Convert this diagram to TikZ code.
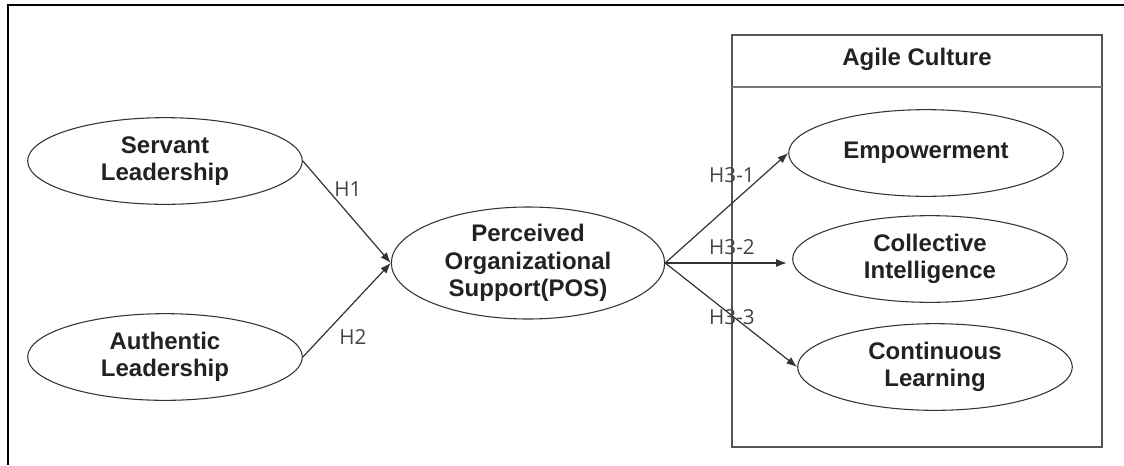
\documentclass[tikz,border=0pt]{standalone}
\usepackage{fontspec}
\setmainfont{Liberation Sans}
\newfontfamily\hlabelfont{Open Sans}
\usetikzlibrary{shapes.geometric,arrows.meta}
\definecolor{inkc}{HTML}{222222}
\definecolor{linec}{HTML}{333333}
\definecolor{boxc}{HTML}{555555}
\definecolor{hlabc}{HTML}{444444}
\begin{document}
\begin{tikzpicture}[x=0.75pt,y=-0.75pt,
  construct/.style={ellipse, draw=linec, line width=0.8pt, inner sep=0pt,
    minimum width=206pt, minimum height=65pt, align=center, text=inkc,
    font=\fontsize{18}{20.5}\selectfont\bfseries},
  bigconstruct/.style={construct, minimum width=205pt, minimum height=84pt},
  hyp/.style={font=\hlabelfont\fontsize{15.5}{18}\selectfont, text=hlabc, inner sep=0pt},
  path/.style={draw=linec, line width=0.9pt, -{Latex[length=8pt,width=6pt]}},
  frame/.style={draw=black, line width=1.7pt},
  group/.style={draw=boxc, line width=1.1pt}
]
\useasboundingbox (0,0) rectangle (1124,465);
% outer frame (top and left edges only)
\coordinate (ftl) at (8,5);
\coordinate (ftr) at (1124,5);
\coordinate (fbl) at (8,465);
\draw[frame] (fbl) -- (ftl) -- (ftr);

% Agile Culture group box
\node[group, rectangle, minimum width=277.5pt, minimum height=309pt, inner sep=0pt] (agile) at (917,241) {};
\coordinate (hdl) at (732,87);
\coordinate (hdr) at (1102,87);
\draw[draw=boxc!80, line width=0.8pt] (hdl) -- (hdr);
\node[anchor=base, font=\fontsize{18}{20.5}\selectfont\bfseries, text=inkc] (agiletitle) at (917,65) {Agile Culture};

% constructs
\node[construct] (serv) at (165,161) {Servant\\Leadership};
\node[construct] (auth) at (165,357) {Authentic\\Leadership};
\node[bigconstruct] (pos) at (528,263) {Perceived\\Organizational\\Support(POS)};
\node[construct] (emp) at (926,153) {Empowerment};
\node[construct] (col) at (930,259) {Collective\\Intelligence};
\node[construct] (con) at (935,367) {Continuous\\Learning};

% paths
\draw[path] (serv.east) -- (pos.west);
\draw[path] (auth.east) -- (pos.west);
\draw[path] (pos.east) -- (emp.west);
\draw[path, shorten >=4pt] (pos.east) -- (pos.east -| col.west);
\draw[path] (pos.east) -- (con.west);

% hypothesis labels
\node[hyp] (h1) at (348,189) {H1};
\node[hyp] (h2) at (353,337) {H2};
\node[hyp] (h31) at (732,175) {H3-1};
\node[hyp] (h32) at (732,247) {H3-2};
\node[hyp] (h33) at (732,317) {H3-3};
\end{tikzpicture}
\end{document}
